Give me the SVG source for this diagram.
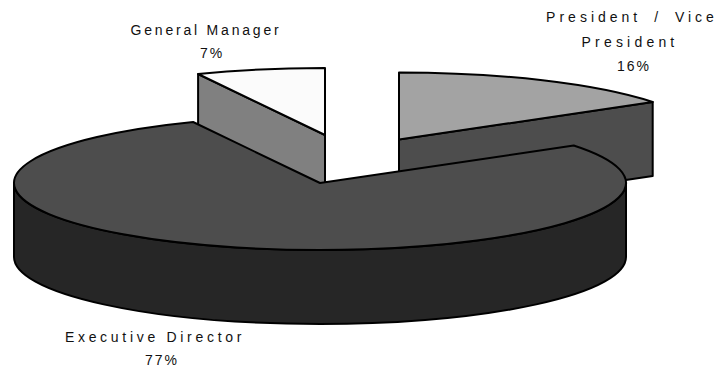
<svg xmlns="http://www.w3.org/2000/svg" width="718" height="373" viewBox="0 0 718 373">
<style>
.e{stroke:#000;stroke-width:2;stroke-linejoin:round}
.t{font-family:"Liberation Sans",Arial,sans-serif;font-size:14px;fill:#111;text-anchor:middle;letter-spacing:2.8px}
.p{letter-spacing:2px}
</style>
<rect width="718" height="373" fill="#fff"/>
<g id="general-manager">
<path class="e" fill="#808080" d="M325,135 L198.1,74 L198.1,148 L325,209 Z"/>
<path class="e" fill="#fbfbfb" d="M325,135 L198.1,74 A306,67 0 0 1 325,68 Z"/>
</g>
<g id="president">
<path class="e" fill="#4d4d4d" d="M399,139.5 L652.7,102 L652.7,176 L399,213.5 Z"/>
<path class="e" fill="#a3a3a3" d="M399,139.5 L399,72.5 A306,67 0 0 1 652.7,102 Z"/>
</g>
<g id="executive-director">
<path class="e" fill="#262626" d="M626,183 A306,67 0 0 1 14,183 L14,257 A306,67 0 0 0 626,257 Z"/>
<path class="e" fill="#4d4d4d" d="M320,183 L573.7,145.5 A306,67 0 1 1 193.1,122 Z"/>
</g>
<g id="labels">
<text class="t" x="206" y="35">General Manager</text>
<text class="t p" x="212" y="58">7%</text>
<text class="t" x="632" y="22" style="letter-spacing:4px;word-spacing:5px">President / Vice</text>
<text class="t" x="630" y="47" style="letter-spacing:4.2px">President</text>
<text class="t p" x="634" y="71">16%</text>
<text class="t" x="155" y="342" style="letter-spacing:3.7px">Executive Director</text>
<text class="t p" x="162" y="365">77%</text>
</g>
</svg>
